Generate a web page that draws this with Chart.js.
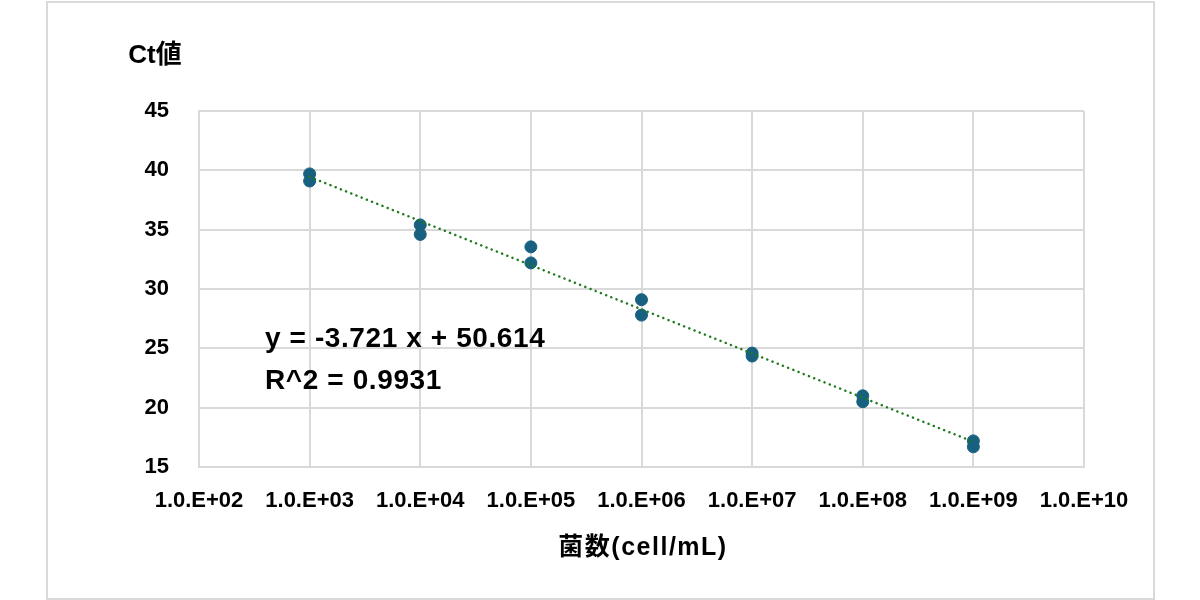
<!DOCTYPE html>
<html>
<head>
<meta charset="utf-8">
<script src="https://cdn.jsdelivr.net/npm/chart.js@4.4.1/dist/chart.umd.min.js"></script>
<style>
  html, body { margin: 0; padding: 0; background: #fff; }
  #frame { position: absolute; left: 46px; top: 1px; width: 1105px; height: 595px; border: 2px solid #d9d9d9; }
  #wrap { position: absolute; left: 0; top: 0; width: 1200px; height: 600px; }
</style>
</head>
<body>
<div id="frame"></div>
<div id="wrap"><canvas id="ctChart" width="1200" height="600"></canvas></div>
<script>
// measured points (two replicates per dilution)
const cellCounts = [1e3, 1e3, 1e4, 1e4, 1e5, 1e5, 1e6, 1e6, 1e7, 1e7, 1e8, 1e8, 1e9, 1e9];
const ctValues = [39.7, 39.1, 35.4, 34.6, 33.55, 32.2, 29.1, 27.8, 24.6, 24.35, 21.0, 20.5, 17.2, 16.7];

// x ticks
const xTickValues = [1e2, 1e3, 1e4, 1e5, 1e6, 1e7, 1e8, 1e9, 1e10];
const xTickLabels = ["1.0.E+02", "1.0.E+03", "1.0.E+04", "1.0.E+05", "1.0.E+06", "1.0.E+07", "1.0.E+08", "1.0.E+09", "1.0.E+10"];

// trendline from the equation shown on the chart
const slope = -3.721;
const intercept = 50.614;
const trendX = [1e3, 1e9];
const equationLines = ["y = -3.721 x + 50.614", "R^2 = 0.9931"];

const font = "'Liberation Sans', 'Noto Sans CJK JP', sans-serif";

const textPlugin = {
  id: "textPlugin",
  afterDraw(chart) {
    const c = chart.ctx;
    c.save();
    c.fillStyle = "#000";
    c.textBaseline = "middle";

    c.font = "bold 26px " + font;
    c.textAlign = "center";
    c.fillText("Ct値", 155, 56);

    c.font = "bold 25px " + font;
    c.letterSpacing = "1.5px";
    c.fillText("菌数(cell/mL)", 643, 548);

    c.font = "bold 28px " + font;
    c.letterSpacing = "0.6px";
    c.textAlign = "left";
    c.fillText(equationLines[0], 265, 339);
    c.fillText(equationLines[1], 265, 381);
    c.restore();
  }
};

const ctx = document.getElementById("ctChart").getContext("2d");
new Chart(ctx, {
  type: "scatter",
  data: {
    datasets: [{
      label: "Ct",
      data: cellCounts.map((x, i) => ({ x: x, y: ctValues[i] })),
      backgroundColor: "#17607f",
      borderColor: "#17607f",
      pointRadius: 6,
      pointHoverRadius: 6,
      order: 2
    }, {
      type: "line",
      label: "trend",
      data: trendX.map(x => ({ x: x, y: slope * Math.log10(x) + intercept })),
      borderColor: "#1d7a1d",
      borderWidth: 2.5,
      borderDash: [0.1, 5.5],
      borderCapStyle: "round",
      pointRadius: 0,
      fill: false,
      order: 1
    }]
  },
  options: {
    responsive: false,
    animation: false,
    layout: { padding: { left: 0, right: 116, top: 111, bottom: 0 } },
    plugins: {
      legend: { display: false },
      tooltip: { enabled: false }
    },
    scales: {
      x: {
        type: "logarithmic",
        min: 1e2,
        max: 1e10,
        afterBuildTicks: (scale) => {
          scale.ticks = xTickValues.map(v => ({ value: v }));
        },
        afterFit: (scale) => { scale.height = 133; },
        grid: { color: "#d9d9d9", lineWidth: 2, drawTicks: false },
        border: { color: "#d9d9d9", width: 2 },
        ticks: {
          autoSkip: false,
          maxRotation: 0,
          padding: 21,
          color: "#000",
          font: { family: font, size: 22, weight: "bold" },
          callback: (value, index) => xTickLabels[index]
        }
      },
      y: {
        min: 15,
        max: 45,
        afterFit: (scale) => { scale.width = 199; },
        grid: { color: "#d9d9d9", lineWidth: 2, drawTicks: false },
        border: { color: "#d9d9d9", width: 2 },
        ticks: {
          stepSize: 5,
          padding: 30,
          color: "#000",
          font: { family: font, size: 22, weight: "bold" }
        }
      }
    }
  },
  plugins: [textPlugin]
});
</script>
</body>
</html>
